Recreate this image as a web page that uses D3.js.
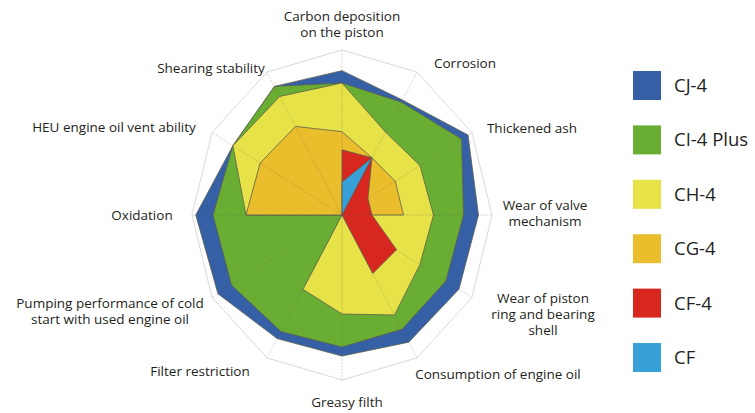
<!DOCTYPE html>
<html><head><meta charset="utf-8">
<script src="https://cdn.jsdelivr.net/npm/d3@7"></script>
<style>
html,body{margin:0;padding:0;background:#fff;}
svg{display:block;}
text{font-family:"Open Sans","Noto Sans",sans-serif;fill:#231f20;}
</style></head>
<body>
<svg id="chart" width="755" height="413"></svg>
<script>
const axes = [
  ["Carbon deposition","on the piston"],
  ["Corrosion"],
  ["Thickened ash"],
  ["Wear of valve","mechanism"],
  ["Wear of piston","ring and bearing","shell"],
  ["Consumption of engine oil"],
  ["Greasy filth"],
  ["Filter restriction"],
  ["Pumping performance of cold","start with used engine oil"],
  ["Oxidation"],
  ["HEU engine oil vent ability"],
  ["Shearing stability"]
];
const seriesNames = ["CJ-4","CI-4 Plus","CH-4","CG-4","CF-4","CF"];
const CJ4     = [0.875,0.805,0.97,0.91,0.90,0.89,0.855,0.865,0.955,0.975,0.84,0.90];
const CI4Plus = [0.80,0.79,0.92,0.81,0.80,0.80,0.80,0.815,0.85,0.86,0.84,0.90];
const CH4     = [0.80,0.58,0.60,0.61,0.60,0.70,0.60,0.52,0,0.64,0.84,0.83];
const CG4     = [0.505,0.40,0.41,0.41,0,0,0,0,0,0.64,0.63,0.62];
const CF4     = [0.395,0.40,0.20,0.20,0.42,0.41,0,0,0,0,0,0];
const CF      = [0.20,0.40,0,0,0,0,0,0,0,0,0,0];
const seriesValues = [CJ4,CI4Plus,CH4,CG4,CF4,CF];
const colors = ["#3560a6","#69ae33","#e6e247","#e9bd2c","#d8271f","#37a0d6"];

// layout
const cx = 342, cy = 215;
const rX = d3.scaleLinear().domain([0,1]).range([0,150]);
const rY = d3.scaleLinear().domain([0,1]).range([0,165]);
const n = axes.length;
const ang = d3.scaleLinear().domain([0,n]).range([0,2*Math.PI]);
const px = (i,v) => cx + Math.sin(ang(i))*rX(v);
const py = (i,v) => cy - Math.cos(ang(i))*rY(v);

const svg = d3.select("#chart");
const line = d3.line().x(d=>px(d.i,d.v)).y(d=>py(d.i,d.v)).curve(d3.curveLinearClosed);

// outer ring
svg.append("path")
  .attr("d", line(d3.range(n).map(i=>({i,v:1}))))
  .attr("fill","none").attr("stroke","#cfcfcf").attr("stroke-width",0.8);

// series polygons
seriesValues.forEach((vals,k)=>{
  svg.append("path")
    .attr("d", line(vals.map((v,i)=>({i,v}))))
    .attr("fill",colors[k])
    .attr("stroke","#5e5e4e").attr("stroke-width",0.8).attr("stroke-linejoin","miter");
});

// spokes on top
svg.append("g").selectAll("line").data(d3.range(n)).join("line")
  .attr("x1",cx).attr("y1",cy)
  .attr("x2",i=>px(i,1)).attr("y2",i=>py(i,1))
  .attr("stroke","rgba(90,90,90,0.35)").attr("stroke-width",0.7)
  .attr("stroke-dasharray","2,1.2");

// axis labels
const labelPos = [
  {x:342,y:21,a:"middle"},
  {x:465,y:68,a:"middle"},
  {x:532,y:133,a:"middle"},
  {x:545,y:210,a:"middle"},
  {x:543,y:303,a:"middle"},
  {x:498,y:379,a:"middle"},
  {x:347,y:407,a:"middle"},
  {x:200,y:376,a:"middle"},
  {x:110,y:308,a:"middle"},
  {x:142,y:220,a:"middle"},
  {x:114,y:132,a:"middle"},
  {x:211,y:73,a:"middle"}
];
const lab = svg.append("g");
axes.forEach((lines,i)=>{
  const p = labelPos[i];
  const t = lab.append("text").attr("x",p.x).attr("y",p.y)
    .attr("text-anchor",p.a).attr("font-size",13.5);
  lines.forEach((s,j)=>{
    t.append("tspan").attr("x",p.x).attr("dy", j===0?0:16).text(s);
  });
});

// legend
const legY = d3.scaleLinear().domain([0,5]).range([71,343]);
const leg = svg.append("g");
seriesNames.forEach((name,k)=>{
  leg.append("rect").attr("x",633).attr("y",legY(k)).attr("width",28).attr("height",29)
    .attr("fill",colors[k]);
  leg.append("text").attr("x",674).attr("y",legY(k)+21).attr("font-size",18.5).text(name);
});
</script>
</body></html>
